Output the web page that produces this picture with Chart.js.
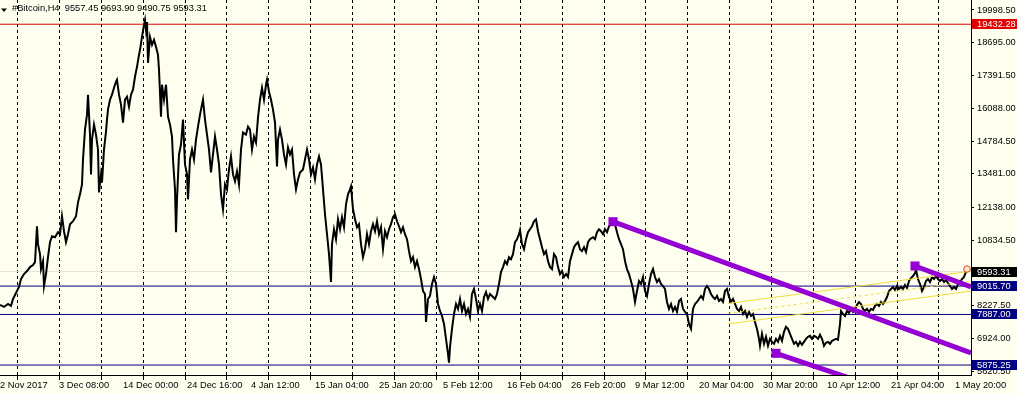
<!DOCTYPE html>
<html><head><meta charset="utf-8">
<script src="https://cdn.jsdelivr.net/npm/chart.js@4"></script>
<style>
html,body{margin:0;padding:0;background:#FFFFF0;}
#wrap{position:relative;width:1017px;height:394px;}
canvas{display:block;background:#FFFFF0;}
</style></head><body>
<div id="wrap"><canvas id="c"></canvas></div>
<script>
// ---- DATA (bar index = H4 bar number from left edge, price in USD) ----
const seriesNovDec = [[0,8265],[4,8186],[8,8305],[11,8226],[13,8503],[16,8741],[19,8979],[21,9296],[24,9494],[27,9613],[30,9771],[33,9851],[35,9970],[37,11397],[38,10683],[40,10287],[41,9692],[43,10009],[44,9018],[46,9494],[48,10168],[50,10762],[52,11000],[55,10961],[58,11159],[60,11080],[62,11793],[64,11199],[66,10762],[68,11080],[70,11476],[73,11595],[76,11793],[78,12348],[80,12665],[82,13062],[83,14053],[85,15242],[87,15836],[88,16629],[89,15836],[90,15044],[91,13458],[92,14845],[94,15440],[96,15044],[98,14449],[99,12744],[101,13458],[102,13141],[104,14449],[106,15163],[107,15638],[108,16035],[110,16431],[112,16629],[114,16907],[116,17145],[117,17224],[119,16629],[121,16233],[123,15519],[125,16431],[127,16550],[129,16154],[131,16629],[133,16827],[135,17343],[137,17739],[139,18215],[140,18413],[142,18928],[144,19404],[145,19602],[146,19206],[147,19523],[148,17898],[150,18928],[152,18611],[154,18809],[156,18532],[158,18215],[159,17620],[161,15757],[162,17026],[164,16431],[166,17026],[168,15757],[170,15440],[172,14964],[173,14053],[175,12863],[176,11159],[177,12467],[179,14251],[181,14647],[183,15638],[185,13854],[187,13458],[188,12467],[190,14053],[192,14449],[194,14053],[196,14845],[198,15361],[200,15836],[202,16233],[203,16431],[205,15638],[207,15044],[209,14449],[211,13537],[213,14251],[215,14964],[217,14449],[219,13854],[221,12665],[223,12071],[225,13062],[227,12863],[229,13656],[231,14172],[233,13458],[235,13181],[237,13577],[239,13062],[241,14449],[243,15123],[246,15044],[248,15361],[250,15242]];
const seriesJanFeb = [[252,14449],[254,14964],[256,14726],[258,15717],[260,16431],[262,16907],[264,16431],[266,17026],[267,17224],[269,16748],[271,16431],[273,16035],[275,15519],[277,13775],[278,14845],[280,15242],[282,14845],[284,14251],[286,13854],[288,14528],[290,14251],[292,14449],[294,13458],[296,12863],[298,13260],[300,13537],[303,13656],[305,14053],[307,14449],[309,14053],[311,13458],[313,13735],[315,13260],[317,13854],[319,14172],[321,13854],[323,12863],[325,11872],[327,11080],[329,10287],[331,9177],[332,10683],[334,11278],[336,10881],[338,11674],[340,11278],[342,11753],[344,11357],[346,12269],[348,12665],[350,12863],[351,12982],[353,12071],[355,11674],[357,11357],[359,11476],[361,10683],[363,10168],[365,10485],[367,11080],[369,10683],[371,11199],[373,11476],[375,11199],[377,11595],[379,11080],[381,11357],[383,10485],[385,11199],[387,10961],[389,11278],[391,11476],[393,11753],[395,11872],[397,11595],[399,11397],[401,11159],[403,11357],[405,11080],[407,10881],[409,10406],[411,10009],[413,10168],[415,9771],[417,10009],[419,9692],[421,9296],[423,8820],[425,8701],[426,7591],[428,8503],[430,8622],[432,9098],[434,9375],[436,9098],[438,8305],[440,8027],[442,7829],[444,7512],[446,6917],[448,6323],[449,5966],[450,6600],[452,7314],[454,7908],[456,8305],[458,8107],[460,8503],[462,8027],[464,8305],[466,7908],[468,8107],[470,7789],[472,8701],[474,8899],[476,8503],[478,8027],[480,8305],[482,8027],[484,8582],[486,8780],[488,8503],[490,8701],[493,8582]];
const seriesFebMar = [[495,8503],[497,8701],[499,9098],[501,9573],[503,9771],[505,10009],[507,9890],[509,10168],[511,10089],[513,10287],[515,10762],[517,10881],[519,11080],[520,11238],[522,10683],[524,10485],[526,10881],[528,11159],[530,11278],[532,11397],[534,11595],[536,11674],[538,11199],[540,10881],[542,10564],[544,10287],[546,10406],[548,10009],[550,9771],[552,9692],[554,10287],[556,10168],[558,9771],[560,9494],[562,9613],[564,9375],[566,9494],[568,9375],[570,10009],[572,10287],[574,10564],[576,10683],[578,10762],[580,10485],[582,10406],[584,10564],[586,10366],[588,10762],[590,10881],[593,10961],[595,10881],[597,11159],[599,11278],[601,11199],[603,11080],[605,11278],[607,11159],[609,11397],[611,11476],[613,11595],[615,11476],[617,11159],[619,10881],[621,10683],[623,10485],[625,10009],[627,9692],[629,9494],[631,9217],[633,8899],[635,8384],[637,8820],[639,9217],[641,9098],[643,9375],[645,8820],[647,8622],[649,9098],[651,9494],[653,9692],[655,9375],[657,9177],[659,9296],[661,9098],[663,9018],[665,8899],[667,8384],[669,8107],[671,8305],[673,8027],[675,8186],[677,7988],[679,8424],[681,8503],[683,8107],[685,7988],[687,7908],[689,7512],[691,7314],[693,8107],[695,8305],[697,8384],[699,8503],[701,8622],[703,8503],[705,8899],[707,9018],[709,8899],[711,8701],[713,8582],[715,8503],[717,8622],[719,8424],[721,8503],[723,8384],[725,8820],[727,8899],[729,8582],[731,8384],[733,8503],[735,8305],[737,8107],[739,8027]];
const seriesMarMay = [[741,8186],[743,7908],[745,8027],[747,7789],[749,7988],[751,7829],[753,7908],[755,7591],[757,7314],[759,6917],[760,6640],[762,7116],[764,6719],[766,6997],[768,6640],[770,6917],[772,6798],[774,6719],[776,6917],[778,6798],[780,7036],[782,6838],[784,7195],[786,7393],[788,7314],[790,7116],[792,6917],[794,6719],[796,6798],[798,6640],[800,6798],[802,6680],[804,6798],[806,6917],[808,6997],[810,7036],[812,6917],[814,7036],[816,6997],[818,6917],[820,7076],[822,6917],[824,6640],[826,6759],[828,6798],[830,6719],[832,6838],[834,6878],[836,6917],[838,6878],[840,7512],[841,8027],[843,7908],[845,7829],[847,8027],[849,7948],[851,8107],[853,7988],[855,8107],[857,8265],[859,8384],[861,8305],[863,8107],[865,8027],[867,8107],[869,7988],[871,8107],[873,8067],[875,8226],[877,8305],[879,8226],[881,8384],[883,8305],[885,8424],[887,8582],[889,8820],[891,8899],[893,8979],[895,8860],[897,9018],[899,8899],[901,8979],[903,8899],[905,9058],[907,8939],[909,9217],[911,9335],[913,9415],[915,9534],[916,9653],[918,9296],[920,9098],[922,8820],[924,8979],[926,9217],[928,9296],[930,9177],[932,9375],[934,9296],[936,9415],[938,9296],[940,9217],[942,9296],[944,9177],[946,9256],[948,9137],[950,9018],[952,8899],[954,8979],[956,8899],[958,9098],[960,9177],[962,9296],[964,9375],[966,9593.31]];

const lastOHLC = [9557.45, 9693.90, 9490.75, 9593.31];
const symbolName = '#Bitcoin,H4';

const yTickValues = [19998.5, 18695, 17391.5, 16088, 14784.5, 13481, 12138, 10834.5, 8227.5, 6924, 5620.5];
const yRange = [5478.8, 20396.3];
const xRange = [0, 971];

const xLabelBars = [0, 59, 123, 187, 251, 315, 379, 443, 507, 571, 635, 699, 763, 827, 891, 955];
const xLabelTexts = ['2 Nov 2017','3 Dec 08:00','14 Dec 00:00','24 Dec 16:00','4 Jan 12:00','15 Jan 04:00','25 Jan 20:00','5 Feb 12:00','16 Feb 04:00','26 Feb 20:00','9 Mar 12:00','20 Mar 04:00','30 Mar 20:00','10 Apr 12:00','21 Apr 04:00','1 May 20:00'];
const weekGridBars = [17, 59, 101, 143, 185, 226, 268, 310, 352, 394, 436, 478, 520, 562, 604, 645, 687, 729, 771, 813, 855, 897, 938];

// horizontal levels
const highLevel = 19432.28;
const supportLevels = [9015.70, 7887.00, 5875.25];
const bidLevel = 9593.31;

// trend lines: [startBar, startPrice, endBar, endPrice]
const trendUpperFall = [613, 11577, 971, 6354];
const trendLowerFall = [776, 6342, 900, 4683];
const trendRecentFall = [915, 9815, 971, 8979];
// rising channel
const channelTop = [728, 8323, 971, 9608];
const channelMid = [728, 7925, 971, 9210];
const channelBottom = [728, 7507, 971, 8820];
const alertPoint = [967, 9693.90];

// ---- CHART ----
const FONT = {family: "'Liberation Sans', Arial, sans-serif", size: 9.3};
const PURPLE = '#9400D3';
const NAVY = '#000080';

const series = [...seriesNovDec, ...seriesJanFeb, ...seriesFebMar, ...seriesMarMay].map(p => ({x: p[0], y: p[1]}));
const seg = a => [{x: a[0], y: a[1]}, {x: a[2], y: a[3]}];
const hline = v => [{x: xRange[0], y: v}, {x: xRange[1], y: v}];

const labelMap = new Map(xLabelBars.map((b, i) => [b, xLabelTexts[i]]));
const gridSet = new Set(weekGridBars);
const allXTicks = Array.from(new Set([...xLabelBars, ...weekGridBars])).sort((a, b) => a - b);

function trend(arr) {
  return {type: 'line', data: seg(arr), borderColor: PURPLE, backgroundColor: PURPLE, borderWidth: 5,
    borderCapStyle: 'butt', pointStyle: 'rect', pointRadius: [6.4, 0], pointBorderWidth: 0,
    pointBackgroundColor: PURPLE, clip: 0};
}
function yellow(arr, dash) {
  return {type: 'line', data: seg(arr), borderColor: '#EEDC3C', borderWidth: 1, borderDash: dash || [],
    pointRadius: 0, clip: 0};
}
function level(v, color) {
  return {type: 'line', data: hline(v), borderColor: color, borderWidth: 1, pointRadius: 0, clip: 0};
}

const datasets = [
  trend(trendUpperFall), trend(trendLowerFall), trend(trendRecentFall),
  {type: 'line', data: [{x: alertPoint[0], y: alertPoint[1]}], showLine: false, pointStyle: 'circle',
    pointRadius: 3.3, pointBorderWidth: 1, pointBorderColor: '#E8401C', pointBackgroundColor: 'rgba(255,220,190,0.6)', clip: 0},
  yellow(channelTop), yellow(channelMid, [3, 3]), yellow(channelBottom),
  {type: 'line', data: series, borderColor: '#000', borderWidth: 2, pointRadius: 0, tension: 0, clip: 0, borderJoinStyle: 'miter'},
  level(highLevel, '#D80000'),
  ...supportLevels.map(v => level(v, NAVY)),
  level(bidLevel, '#E2E2D6'),
];

const overlay = {
  id: 'overlay',
  afterDraw(chart) {
    const {ctx} = chart;
    const y = chart.scales.y;
    ctx.save();
    ctx.font = `${FONT.size}px ${FONT.family}`;
    ctx.textBaseline = 'middle';
    ctx.textAlign = 'left';
    const boxes = [[highLevel, '#E40000'], [bidLevel, '#000000'], ...supportLevels.map(v => [v, NAVY])];
    boxes.forEach(([v, bg]) => {
      const py = Math.round(y.getPixelForValue(v));
      ctx.fillStyle = bg;
      ctx.fillRect(972, py - 5, 45, 10);
      ctx.fillStyle = '#FFFFFF';
      ctx.fillText(v.toFixed(2), 977, py + 0.5);
    });
    // title
    ctx.fillStyle = '#000';
    ctx.beginPath();
    ctx.moveTo(1, 8.5); ctx.lineTo(7, 8.5); ctx.lineTo(4, 12); ctx.closePath(); ctx.fill();
    ctx.fillText(symbolName + '  ' + lastOHLC.map(v => v.toFixed(2)).join(' '), 12, 8.8);
    ctx.restore();
  }
};

function noPad(s) { s.paddingTop = 0; s.paddingBottom = 0; s.paddingLeft = 0; s.paddingRight = 0; }

new Chart(document.getElementById('c'), {
  data: {datasets},
  options: {
    responsive: true, maintainAspectRatio: false, animation: false,
    layout: {padding: 0, autoPadding: false},
    plugins: {legend: {display: false}, tooltip: {enabled: false}, title: {display: false}},
    scales: {
      x: {
        type: 'linear', position: 'bottom', min: xRange[0], max: xRange[1],
        afterBuildTicks: s => { s.ticks = allXTicks.map(v => ({value: v})); },
        afterFit: s => { s.height = 19; noPad(s); },
        ticks: {autoSkip: false, maxRotation: 0, minRotation: 0, align: 'start', padding: 0,
          color: '#000', font: FONT, callback: v => labelMap.has(v) ? labelMap.get(v) : ''},
        grid: {drawOnChartArea: true, drawTicks: true, tickLength: 5, lineWidth: 1,
          color: c => (c.tick && gridSet.has(c.tick.value)) ? '#000' : 'rgba(0,0,0,0)',
          tickColor: c => (c.tick && gridSet.has(c.tick.value)) ? '#000' : 'rgba(0,0,0,0)'},
        border: {display: true, color: '#000', width: 1, dash: [3, 3]}
      },
      y: {
        type: 'linear', position: 'right', min: yRange[0], max: yRange[1],
        afterBuildTicks: s => { s.ticks = yTickValues.map(v => ({value: v})); },
        afterFit: s => { s.width = 46; noPad(s); },
        ticks: {padding: 3, color: '#000', font: FONT, callback: v => Number(v).toFixed(2)},
        grid: {drawOnChartArea: false, drawTicks: true, tickLength: 3, color: '#000', tickColor: '#000'},
        border: {display: true, color: '#000', width: 1}
      }
    }
  },
  plugins: [overlay]
});
</script>
</body></html>
